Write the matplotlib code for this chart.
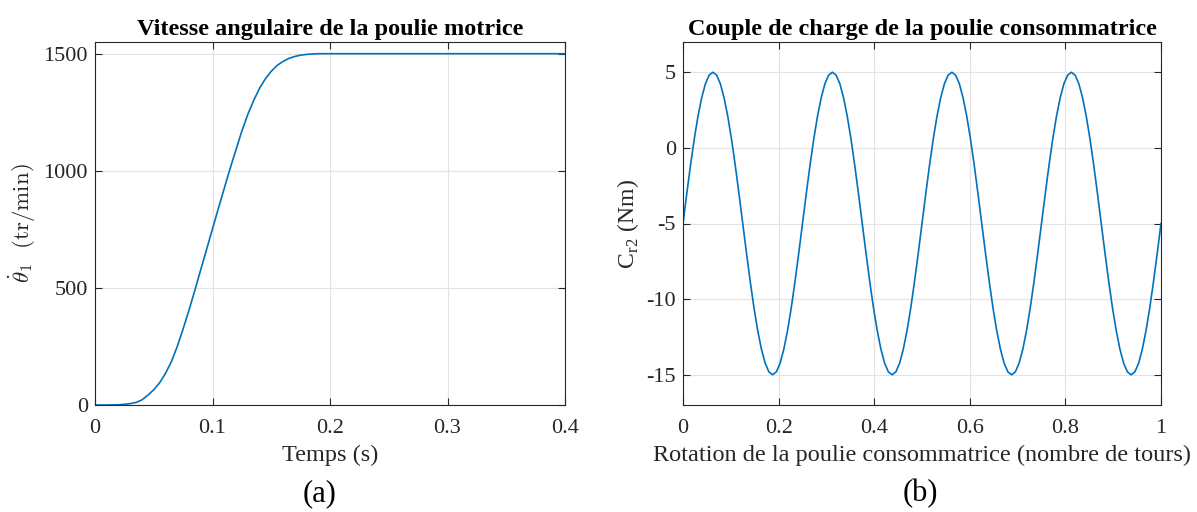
import numpy as np
import matplotlib
matplotlib.use('Agg')
import matplotlib.pyplot as plt

plt.rcParams['font.family'] = ['Liberation Serif', 'DejaVu Serif']
plt.rcParams['mathtext.fontset'] = 'cm'

# (a) angular speed of the driving pulley
temps = [0, 0.005, 0.01, 0.015, 0.02, 0.025, 0.03, 0.035, 0.04, 0.045,
         0.05, 0.055, 0.06, 0.065, 0.07, 0.075, 0.08, 0.085, 0.09, 0.095,
         0.1, 0.105, 0.11, 0.115, 0.12, 0.125, 0.13, 0.135, 0.14, 0.145,
         0.15, 0.155, 0.16, 0.165, 0.17, 0.175, 0.18, 0.185, 0.19, 0.195,
         0.2, 0.3, 0.4]
vitesse = [0, 0, 0, 0.5, 1, 3, 6, 11, 22, 42,
           65, 95, 135, 185, 250, 325, 405, 490, 578, 665,
           752, 840, 925, 1010, 1090, 1170, 1240, 1300, 1352, 1393,
           1425, 1450, 1467, 1480, 1488, 1494, 1497, 1499, 1500, 1500,
           1500, 1500, 1500]

# (b) load torque vs rotation, 32 readings per period
rotation = [i / 128 for i in range(129)]
couple = [-5.0, -3.05, -1.17, 0.56, 2.07, 3.31, 4.24, 4.81,
          5.0, 4.81, 4.24, 3.31, 2.07, 0.56, -1.17, -3.05,
          -5.0, -6.95, -8.83, -10.56, -12.07, -13.31, -14.24, -14.81,
          -15.0, -14.81, -14.24, -13.31, -12.07, -10.56, -8.83, -6.95,
          -5.0, -3.05, -1.17, 0.56, 2.07, 3.31, 4.24, 4.81,
          5.0, 4.81, 4.24, 3.31, 2.07, 0.56, -1.17, -3.05,
          -5.0, -6.95, -8.83, -10.56, -12.07, -13.31, -14.24, -14.81,
          -15.0, -14.81, -14.24, -13.31, -12.07, -10.56, -8.83, -6.95,
          -5.0, -3.05, -1.17, 0.56, 2.07, 3.31, 4.24, 4.81,
          5.0, 4.81, 4.24, 3.31, 2.07, 0.56, -1.17, -3.05,
          -5.0, -6.95, -8.83, -10.56, -12.07, -13.31, -14.24, -14.81,
          -15.0, -14.81, -14.24, -13.31, -12.07, -10.56, -8.83, -6.95,
          -5.0, -3.05, -1.17, 0.56, 2.07, 3.31, 4.24, 4.81,
          5.0, 4.81, 4.24, 3.31, 2.07, 0.56, -1.17, -3.05,
          -5.0, -6.95, -8.83, -10.56, -12.07, -13.31, -14.24, -14.81,
          -15.0, -14.81, -14.24, -13.31, -12.07, -10.56, -8.83, -6.95,
          -5.0]

blue = '#0072BD'
dark = '#262626'

fig = plt.figure(figsize=(11.97, 5.12), dpi=100)
ax1 = fig.add_axes([95 / 1197, 1 - 405 / 512, 470 / 1197, 363 / 512])
ax2 = fig.add_axes([683 / 1197, 1 - 405 / 512, 478 / 1197, 363 / 512])


def matlab_style(ax):
    ax.grid(True, color='#e3e3e3', linewidth=0.8)
    ax.set_axisbelow(True)
    ax.tick_params(direction='in', top=True, right=True, length=5,
                   width=0.8, colors=dark, labelsize=16)
    ax.tick_params(axis='x', pad=10)
    ax.tick_params(axis='y', pad=5)
    for s in ax.spines.values():
        s.set_color(dark)
        s.set_linewidth(0.8)


ax1.plot(temps, vitesse, color=blue, lw=1.2)
ax1.set_xlim(0, 0.4)
ax1.set_ylim(0, 1550)
ax1.set_xticks([0, 0.1, 0.2, 0.3, 0.4])
ax1.set_xticklabels(['0', '0.1', '0.2', '0.3', '0.4'])
ax1.set_yticks([0, 500, 1000, 1500])
matlab_style(ax1)
ax1.set_title('Vitesse angulaire de la poulie motrice', fontsize=17.5,
              fontweight='bold', pad=5)
ax1.set_xlabel('Temps (s)', fontsize=17.5, color=dark, labelpad=5)
ax1.set_ylabel(r'$\dot{\theta}_1\ \ \mathrm{(tr/min)}$', fontsize=16.5,
               color=dark, labelpad=4)

ax2.plot(rotation, couple, color=blue, lw=1.2)
ax2.set_xlim(0, 1)
ax2.set_ylim(-17, 7)
ax2.set_xticks([0, 0.2, 0.4, 0.6, 0.8, 1])
ax2.set_xticklabels(['0', '0.2', '0.4', '0.6', '0.8', '1'])
ax2.set_yticks([-15, -10, -5, 0, 5])
ax2.set_yticklabels(['-15', '-10', '-5', '0', '5'])
matlab_style(ax2)
ax2.set_title('Couple de charge de la poulie consommatrice', fontsize=17.5,
              fontweight='bold', pad=5)
ax2.set_xlabel('Rotation de la poulie consommatrice (nombre de tours)',
               fontsize=17.5, color=dark, labelpad=5)
ax2.set_ylabel(r'C$_{\mathregular{r2}}$ (Nm)', fontsize=17, color=dark)

fig.text(320 / 1197, 1 - 494 / 512, '(a)', fontsize=22, ha='center', va='center')
fig.text(920 / 1197, 1 - 494 / 512, '(b)', fontsize=22, ha='center', va='center')

fig.savefig('out.png', dpi=100)
